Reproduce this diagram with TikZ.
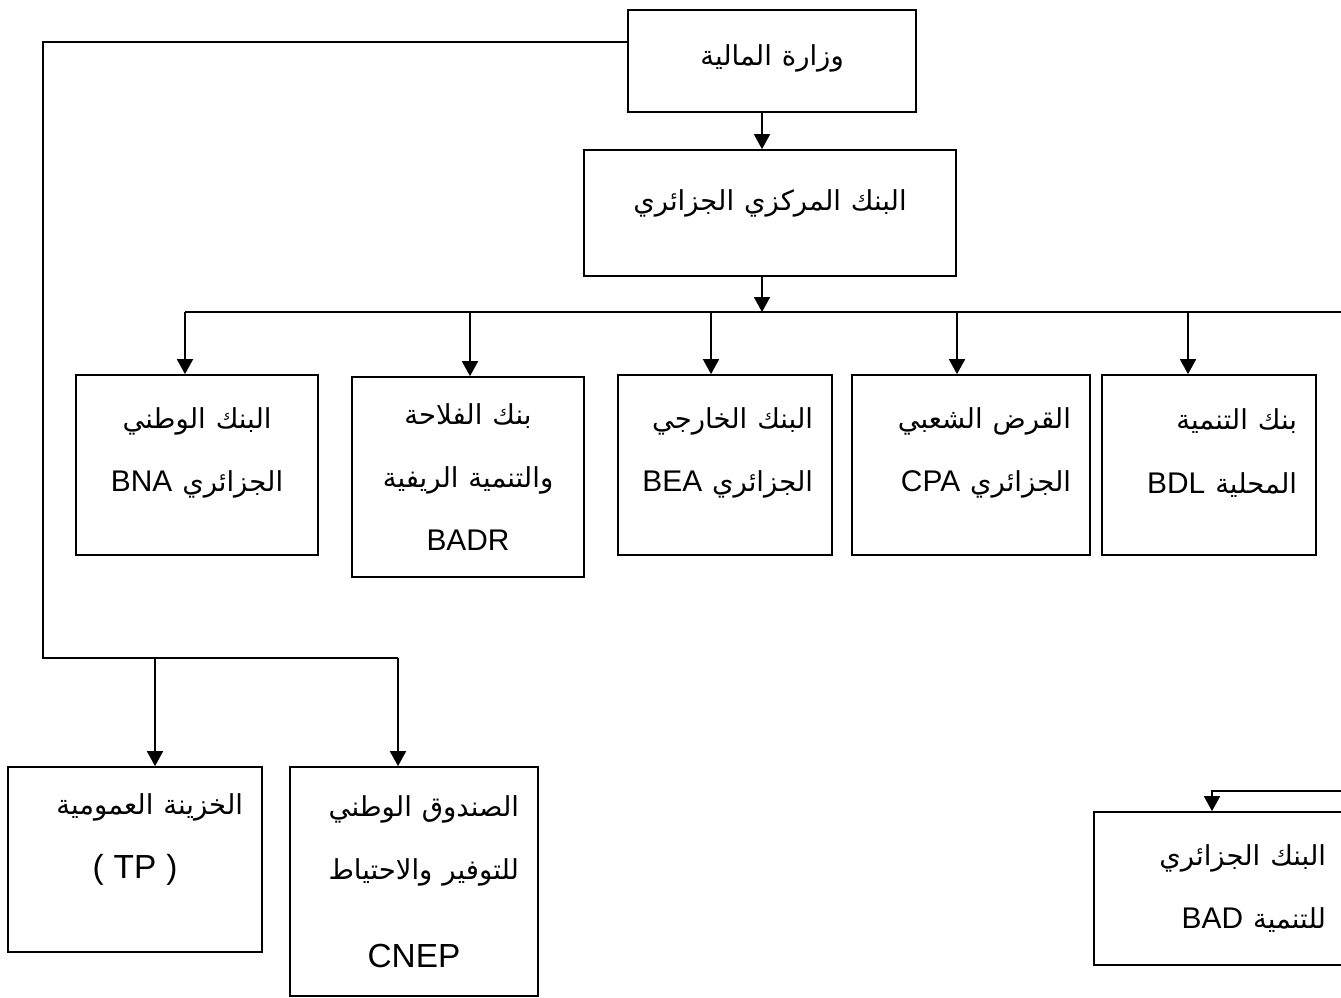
\documentclass[tikz,border=0pt]{standalone}
\usepackage{fontspec}
\setmainfont{Liberation Sans}
\newfontfamily\arabicfont[Script=Arabic,Scale=0.92]{DejaVu Sans}
\TeXXeTstate=1
\usetikzlibrary{arrows.meta}
\newcommand{\ara}[1]{{\arabicfont #1}}
\begin{document}
\begin{tikzpicture}[x=0.02cm, y=-0.02cm, line width=1pt,
	font=\fontsize{17pt}{36pt}\selectfont]
	\tikzset{bankbox/.style = {draw, inner xsep=0.38cm, inner ysep=0pt, minimum height=3.6cm}}
	\tikzset{lift/.style = {execute at end node={\par\vspace*{#1}}}}
	\tikzset{arr/.style = {-{Triangle[length=0.3cm,width=0.32cm]}}}
	\useasboundingbox (0,0) rectangle (1341,997);
	% ministry and central bank
	\node[bankbox, minimum width=5.76cm, minimum height=2.04cm, text width=5cm, align=center, lift=0.1cm] (mof) at (772,61) {\beginR\ara{وزارة المالية}\endR};
	\node[bankbox, minimum width=7.44cm, minimum height=2.52cm, text width=6.68cm, align=center, lift=0.4cm] (cbank) at (770,213) {\beginR\ara{البنك المركزي الجزائري}\endR};
	% commercial banks
	\node[bankbox, minimum width=4.84cm, text width=4.08cm, align=center, lift=0.48cm] (bna) at (197,465) {\beginR\ara{البنك الوطني}\endR\\ \beginR\ara{الجزائري} BNA\endR};
	\node[bankbox, minimum width=4.64cm, minimum height=4cm, text width=3.88cm, align=center] (badr) at (468,477) {\beginR\ara{بنك الفلاحة}\endR\\ \beginR\ara{والتنمية الريفية}\endR\\ BADR};
	\node[bankbox, minimum width=4.28cm, text width=3.52cm, align=right, lift=0.48cm] (bea) at (725,465) {\beginR\ara{البنك الخارجي}\endR\\ \beginR\ara{الجزائري} BEA\endR};
	\node[bankbox, minimum width=4.76cm, text width=4cm, align=right, lift=0.48cm] (cpa) at (971,465) {\beginR\ara{القرض الشعبي}\endR\\ \beginR\ara{الجزائري} CPA\endR};
	\node[bankbox, minimum width=4.28cm, text width=3.52cm, align=right, lift=0.48cm] (bdl) at (1209,465) {\beginR\ara{بنك التنمية}\endR\\ \beginR\ara{المحلية} BDL\endR};
	% treasury side
	\node[bankbox, minimum width=5.08cm, minimum height=3.7cm, text width=4.32cm, align=right, lift=0.8cm] (tp) at (135,859.5) {\beginR\ara{الخزينة العمومية}\endR\\ \makebox[\hsize][c]{\fontsize{19pt}{36pt}\selectfont ( TP )}};
	\node[bankbox, minimum width=4.96cm, minimum height=4.58cm, text width=4.2cm, align=right] (cnep) at (414,881.5) {\beginR\ara{الصندوق الوطني}\endR\\ \beginR\ara{للتوفير والاحتياط}\endR\\[0.5cm] \makebox[\hsize][c]{\fontsize{19pt}{36pt}\selectfont CNEP}};
	\node[bankbox, minimum width=5.02cm, minimum height=3.06cm, text width=4.26cm, align=right] (bad) at (1219.5,888.5) {\beginR\ara{البنك الجزائري}\endR\\ \beginR\ara{للتنمية} BAD\endR};
	% connectors
	\coordinate (trunk) at (762,312);
	\coordinate (busend) at (1345,312);
	\draw[arr] (mof.south -| trunk) -- (cbank.north -| trunk);
	\draw[arr] (cbank.south -| trunk) -- (trunk);
	\foreach \x/\n in {185/bna, 470/badr, 711/bea, 957/cpa, 1188/bdl}{
		\coordinate (tap-\n) at (\x,312);
		\draw[arr] (tap-\n) -- (tap-\n |- \n.north);
	}
	\draw (tap-bna) -- (busend);
	\coordinate (mofleft) at (628,42);
	\coordinate (lcorner) at (43,658);
	\coordinate (tap-tp) at (155,658);
	\coordinate (tap-cnep) at (398,658);
	\draw (mofleft) -| (lcorner) -- (tap-cnep);
	\draw[arr] (tap-tp) -- (tap-tp |- tp.north);
	\draw[arr] (tap-cnep) -- (tap-cnep |- cnep.north);
	\coordinate (badend) at (1345,791);
	\coordinate (tap-bad) at (1212,791);
	\draw[arr] (badend) -- (tap-bad) -- (tap-bad |- bad.north);
\end{tikzpicture}
\end{document}
